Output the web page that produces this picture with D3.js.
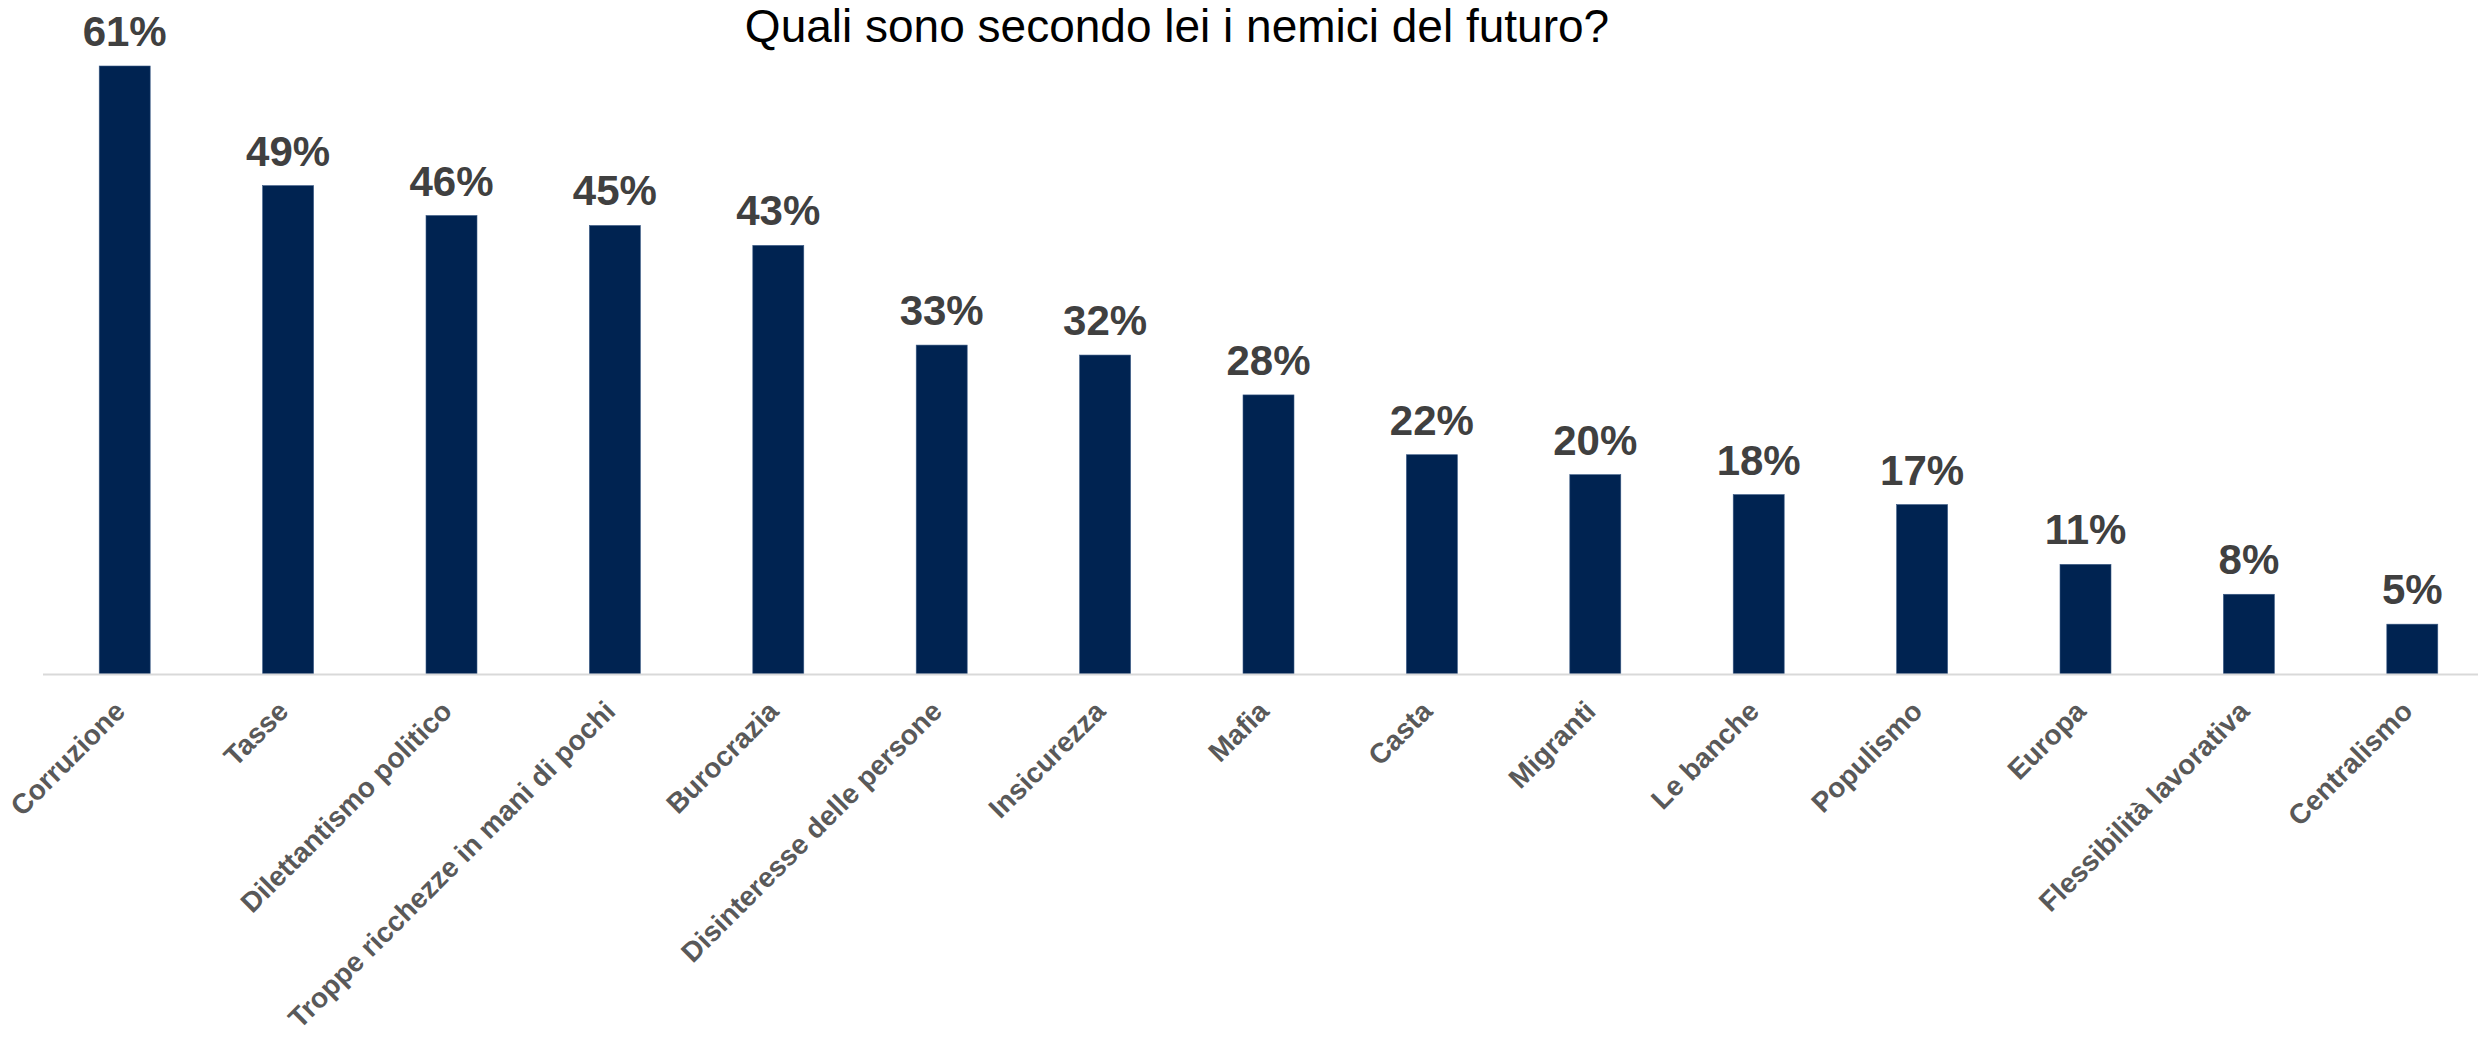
<!DOCTYPE html>
<html>
<head>
<meta charset="utf-8">
<script src="https://cdn.jsdelivr.net/npm/d3@7"></script>
<style>
  html, body { margin: 0; padding: 0; background: #ffffff; }
  svg { display: block; }
</style>
</head>
<body>
<svg id="chart" width="2478" height="1040"></svg>
<script>
const title = "Quali sono secondo lei i nemici del futuro?";
const categories = [
  "Corruzione", "Tasse", "Dilettantismo politico", "Troppe ricchezze in mani di pochi",
  "Burocrazia", "Disinteresse delle persone", "Insicurezza", "Mafia", "Casta",
  "Migranti", "Le banche", "Populismo", "Europa", "Flessibilità lavorativa", "Centralismo"
];
const values = [61, 49, 46, 45, 43, 33, 32, 28, 22, 20, 18, 17, 11, 8, 5];

const W = 2478, H = 1040;
const baseY = 674;
const svg = d3.select("#chart");

const x = d3.scaleBand()
  .domain(categories)
  .range([43, 2494])
  .paddingInner(0.688)
  .paddingOuter(0.344);

const y = d3.scaleLinear()
  .domain([0, 61])
  .range([baseY, 66]);

// title
svg.append("text")
  .attr("x", 1177)
  .attr("y", 42)
  .attr("text-anchor", "middle")
  .attr("font-family", "Liberation Sans, Arial, sans-serif")
  .attr("font-size", 46)
  .attr("fill", "#000000")
  .text(title);

const data = categories.map((c, i) => ({ c, v: values[i] }));

// bars
svg.append("g").selectAll("rect")
  .data(data)
  .join("rect")
  .attr("x", d => x(d.c))
  .attr("y", d => y(d.v))
  .attr("width", x.bandwidth())
  .attr("height", d => y(0) - y(d.v))
  .attr("fill", "#002351")
  .attr("stroke", "#3a5a85")
  .attr("stroke-width", 0.6);

// axis line
const axis = d3.axisBottom(x).tickSize(0).tickFormat("");
const axG = svg.append("g")
  .attr("transform", `translate(0,${baseY + 0.5})`)
  .call(axis);
axG.select(".domain").remove();
axG.append("line")
  .attr("x1", 43).attr("x2", W)
  .attr("y1", 0).attr("y2", 0)
  .attr("stroke", "#d9d9d9")
  .attr("stroke-width", 2);

// value labels
svg.append("g").selectAll("text")
  .data(data)
  .join("text")
  .attr("x", d => x(d.c) + x.bandwidth() / 2)
  .attr("y", d => y(d.v) - 20)
  .attr("text-anchor", "middle")
  .attr("font-family", "Liberation Sans, Arial, sans-serif")
  .attr("font-weight", "bold")
  .attr("font-size", 42)
  .attr("fill", "#404040")
  .text(d => d.v + "%");

// category labels
svg.append("g").selectAll("text")
  .data(data)
  .join("text")
  .attr("transform", d => {
    const cx = x(d.c) + x.bandwidth() / 2 + 2;
    return `translate(${cx},${baseY + 39}) rotate(-45)`;
  })
  .attr("text-anchor", "end")
  .attr("font-family", "Liberation Sans, Arial, sans-serif")
  .attr("font-weight", "bold")
  .attr("font-size", 28)
  .attr("fill", "#595959")
  .text(d => d.c);
</script>
</body>
</html>
